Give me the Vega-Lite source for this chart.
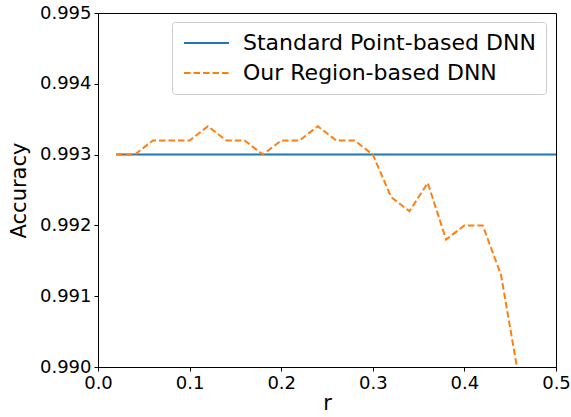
{
  "$schema": "https://vega.github.io/schema/vega-lite/v6.json",
  "width": 458,
  "height": 354,
  "autosize": {"type": "none"},
  "padding": {"left": 98, "top": 13, "right": 15, "bottom": 50},
  "background": "white",
  "config": {
    "font": "DejaVu Sans",
    "view": {"stroke": "black", "strokeWidth": 1},
    "axis": {
      "grid": false,
      "domainColor": "black",
      "tickColor": "black",
      "tickSize": 4,
      "labelFontSize": 18,
      "labelColor": "black",
      "labelFlush": false,
      "titleFontSize": 21,
      "titleFontWeight": "normal",
      "titleColor": "black",
      "labelFont": "DejaVu Sans",
      "titleFont": "DejaVu Sans"
    }
  },
  "data": {
    "values": [
      {"series": "Standard Point-based DNN", "r": 0.02, "acc": 0.993},
      {"series": "Standard Point-based DNN", "r": 0.5, "acc": 0.993},
      {"series": "Our Region-based DNN", "r": 0.02, "acc": 0.993},
      {"series": "Our Region-based DNN", "r": 0.04, "acc": 0.993},
      {"series": "Our Region-based DNN", "r": 0.06, "acc": 0.9932},
      {"series": "Our Region-based DNN", "r": 0.08, "acc": 0.9932},
      {"series": "Our Region-based DNN", "r": 0.10, "acc": 0.9932},
      {"series": "Our Region-based DNN", "r": 0.12, "acc": 0.9934},
      {"series": "Our Region-based DNN", "r": 0.14, "acc": 0.9932},
      {"series": "Our Region-based DNN", "r": 0.16, "acc": 0.9932},
      {"series": "Our Region-based DNN", "r": 0.18, "acc": 0.993},
      {"series": "Our Region-based DNN", "r": 0.20, "acc": 0.9932},
      {"series": "Our Region-based DNN", "r": 0.22, "acc": 0.9932},
      {"series": "Our Region-based DNN", "r": 0.24, "acc": 0.9934},
      {"series": "Our Region-based DNN", "r": 0.26, "acc": 0.9932},
      {"series": "Our Region-based DNN", "r": 0.28, "acc": 0.9932},
      {"series": "Our Region-based DNN", "r": 0.30, "acc": 0.993},
      {"series": "Our Region-based DNN", "r": 0.32, "acc": 0.9924},
      {"series": "Our Region-based DNN", "r": 0.34, "acc": 0.9922},
      {"series": "Our Region-based DNN", "r": 0.36, "acc": 0.9926},
      {"series": "Our Region-based DNN", "r": 0.38, "acc": 0.9918},
      {"series": "Our Region-based DNN", "r": 0.40, "acc": 0.992},
      {"series": "Our Region-based DNN", "r": 0.42, "acc": 0.992},
      {"series": "Our Region-based DNN", "r": 0.44, "acc": 0.9913},
      {"series": "Our Region-based DNN", "r": 0.46, "acc": 0.9898}
    ]
  },
  "mark": {"type": "line", "clip": true, "strokeWidth": 2},
  "encoding": {
    "x": {
      "field": "r", "type": "quantitative",
      "scale": {"domain": [0, 0.5], "nice": false, "zero": false},
      "axis": {"values": [0, 0.1, 0.2, 0.3, 0.4, 0.5], "format": ".1f", "title": "r", "titlePadding": 0, "labelPadding": 3}
    },
    "y": {
      "field": "acc", "type": "quantitative",
      "scale": {"domain": [0.99, 0.995], "nice": false, "zero": false},
      "axis": {"values": [0.99, 0.991, 0.992, 0.993, 0.994, 0.995], "format": ".3f", "title": "Accuracy", "titlePadding": 10, "labelPadding": 3}
    },
    "color": {
      "field": "series", "type": "nominal",
      "scale": {"domain": ["Standard Point-based DNN", "Our Region-based DNN"], "range": ["#1f77b4", "#ff7f0e"]},
      "legend": {
        "title": null,
        "orient": "none",
        "legendX": 74,
        "legendY": 9,
        "symbolType": "M-2,0H8",
        "symbolSize": 81,
        "symbolStrokeWidth": 2,
        "labelFontSize": 22,
        "labelLimit": 500,
        "labelFont": "DejaVu Sans",
        "labelColor": "black",
        "labelOffset": 39,
        "rowPadding": 8,
        "padding": 10,
        "strokeColor": "#cccccc",
        "fillColor": "white",
        "cornerRadius": 3
      }
    },
    "strokeDash": {
      "field": "series", "type": "nominal",
      "scale": {"domain": ["Standard Point-based DNN", "Our Region-based DNN"], "range": [[1, 0], [6.5, 3]]},
      "legend": null
    }
  }
}
